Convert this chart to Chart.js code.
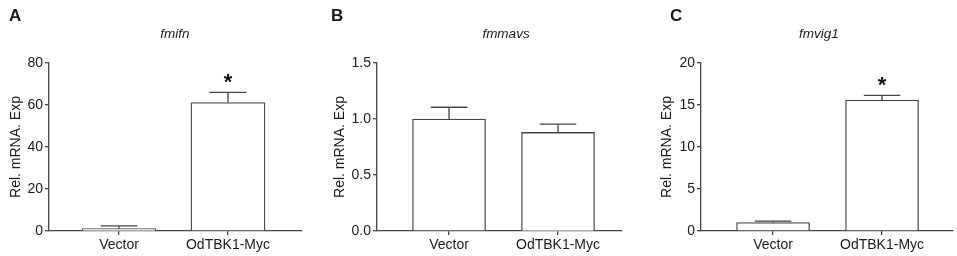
<!DOCTYPE html>
<html>
<head>
<meta charset="utf-8">
<script src="https://cdn.jsdelivr.net/npm/chart.js@4"></script>
<style>
  body { margin: 0; background: #fff; }
  #wrap { position: relative; width: 957px; height: 256px; overflow: hidden; font-family: "Liberation Sans", Arial, sans-serif; color: #1a1a1a; }
  canvas { position: absolute; top: 0; }
  .letter { position: absolute; top: 6px; font-weight: bold; font-size: 17px; }
  .gene { position: absolute; top: 26px; font-style: italic; font-size: 13.5px; transform: translateX(-50%); }
</style>
</head>
<body>
<div id="wrap">
  <canvas id="cA" width="320" height="256" style="left:0px"></canvas>
  <canvas id="cB" width="320" height="256" style="left:320px"></canvas>
  <canvas id="cC" width="320" height="256" style="left:637px"></canvas>
  <div class="letter" style="left:9px">A</div>
  <div class="letter" style="left:331px">B</div>
  <div class="letter" style="left:670px">C</div>
  <div class="gene" style="left:175px">fmifn</div>
  <div class="gene" style="left:506px">fmmavs</div>
  <div class="gene" style="left:819px">fmvig1</div>
</div>
<script>
const categories = ['Vector', 'OdTBK1-Myc']
const yTitle = 'Rel. mRNA. Exp'

// fmifn
const ifnMean = [1.1, 61.2]
const ifnSem = [1.3, 4.8]
const ifnSig = [false, true]
// fmmavs
const mavsMean = [1.0, 0.88]
const mavsSem = [0.105, 0.075]
const mavsSig = [false, false]
// fmvig1
const vig1Mean = [1.0, 15.6]
const vig1Sem = [0.17, 0.55]
const vig1Sig = [false, true]

const ink = '#444444'

const errorBars = {
    id: 'errorBars',
    afterDatasetsDraw(chart, args, opts) {
        const ctx = chart.ctx
        const meta = chart.getDatasetMeta(0)
        const y = chart.scales.y
        ctx.save()
        ctx.strokeStyle = ink
        ctx.lineWidth = 1.3
        meta.data.forEach((bar, i) => {
            const top = y.getPixelForValue(opts.mean[i] + opts.sem[i])
            const half = bar.width / 4
            ctx.beginPath()
            ctx.moveTo(bar.x, bar.y)
            ctx.lineTo(bar.x, top)
            ctx.moveTo(bar.x - half, top)
            ctx.lineTo(bar.x + half, top)
            ctx.stroke()
            if (opts.sig[i]) {
                ctx.fillStyle = '#111'
                ctx.font = 'bold 22px "Liberation Sans", Arial, sans-serif'
                ctx.textAlign = 'center'
                ctx.textBaseline = 'middle'
                ctx.fillText('*', bar.x, top - 9)
            }
        })
        ctx.restore()
    }
}

function makeChart(id, mean, sem, sig, o) {
    const el = document.getElementById(id)
    const font = { family: '"Liberation Sans", Arial, sans-serif', size: 14 }
    return new Chart(el, {
        type: 'bar',
        data: {
            datasets: [{
                data: mean.map((v, i) => ({ x: i + 1, y: v })),
                backgroundColor: '#ffffff',
                borderColor: ink,
                borderWidth: 1.3,
                borderSkipped: 'bottom',
                barThickness: o.barWidth
            }]
        },
        options: {
            responsive: false,
            animation: false,
            events: [],
            layout: { padding: { top: 63, right: o.padRight, left: 0, bottom: 0 } },
            plugins: {
                legend: { display: false },
                tooltip: { enabled: false },
                errorBars: { mean, sem, sig }
            },
            scales: {
                x: {
                    type: 'linear',
                    offset: false,
                    min: o.xMin,
                    max: o.xMax,
                    afterBuildTicks: s => { s.ticks = [{ value: 1 }, { value: 2 }] },
                    afterFit: s => { s.height = 25 },
                    ticks: {
                        callback: v => categories[v - 1],
                        color: '#1a1a1a',
                        font,
                        padding: 2,
                        maxRotation: 0
                    },
                    grid: { offset: false, drawOnChartArea: false, tickLength: 4, color: ink, lineWidth: 1.3 },
                    border: { color: ink, width: 1.3 }
                },
                y: {
                    min: 0,
                    max: o.yMax,
                    afterFit: s => { s.width = o.yWidth },
                    ticks: {
                        stepSize: o.step,
                        callback: v => o.decimals ? v.toFixed(o.decimals) : v,
                        color: '#1a1a1a',
                        font,
                        padding: 2
                    },
                    grid: { offset: false, drawOnChartArea: false, tickLength: 4, color: ink, lineWidth: 1.3 },
                    border: { color: ink, width: 1.3 },
                    title: {
                        display: true,
                        text: yTitle,
                        color: '#1a1a1a',
                        font,
                        padding: { top: o.titlePad, bottom: 0 }
                    }
                }
            }
        },
        plugins: [errorBars]
    })
}

makeChart('cA', ifnMean, ifnSem, ifnSig,
    { yMax: 80, step: 20, decimals: 0, yWidth: 49, padRight: 18, xMin: 0.358, xMax: 2.679, barWidth: 74, titlePad: 8 })
makeChart('cB', mavsMean, mavsSem, mavsSig,
    { yMax: 1.5, step: 0.5, decimals: 1, yWidth: 57, padRight: 18, xMin: 0.339, xMax: 2.587, barWidth: 73, titlePad: 12 })
makeChart('cC', vig1Mean, vig1Sem, vig1Sig,
    { yMax: 20, step: 5, decimals: 0, yWidth: 64, padRight: 4, xMin: 0.339, xMax: 2.651, barWidth: 73, titlePad: 22 })
</script>
</body>
</html>
